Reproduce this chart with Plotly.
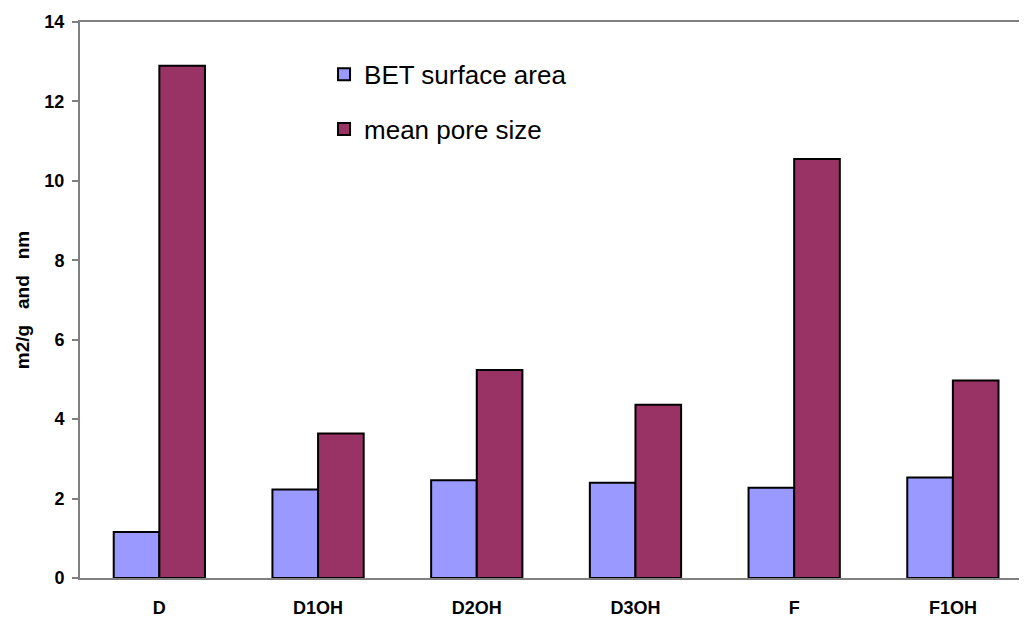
import plotly.graph_objects as go

categories = ["D", "D1OH", "D2OH", "D3OH", "F", "F1OH"]
bet_surface_area = [1.16, 2.23, 2.46, 2.40, 2.27, 2.53]
mean_pore_size = [12.9, 3.64, 5.24, 4.36, 10.55, 4.97]
y_ticks = [0, 2, 4, 6, 8, 10, 12, 14]

fig = go.Figure()
fig.add_trace(go.Bar(
    x=categories, y=bet_surface_area, name="BET surface area",
    marker=dict(color="#9999FF", line=dict(color="black", width=2)),
    legendgroup="a",
))
fig.add_trace(go.Bar(
    x=categories, y=mean_pore_size, name="mean pore size",
    marker=dict(color="#993366", line=dict(color="black", width=2)),
    legendgroup="b",
))

fig.update_layout(
    width=1019, height=609,
    margin=dict(l=72, r=0, t=14, b=39),
    plot_bgcolor="white", paper_bgcolor="white",
    barmode="group", bargap=0.425, bargroupgap=0,
    font=dict(family="Arial, Liberation Sans, sans-serif", color="black"),
    showlegend=True,
    legend=dict(
        x=0.2577, y=0.948, xanchor="left", yanchor="top",
        font=dict(size=26, family="Arial, Liberation Sans, sans-serif"),
        bgcolor="rgba(0,0,0,0)", tracegroupgap=18,
        traceorder="grouped",
    ),
    xaxis=dict(
        type="category", range=[-0.5, 5.467],
        showline=True, linecolor="#808080", linewidth=2, mirror=True,
        ticks="", showgrid=False,
        tickfont=dict(size=18, weight="bold"),
        ticklabelstandoff=12,
    ),
    yaxis=dict(
        range=[0, 14], tickvals=y_ticks,
        showline=True, linecolor="#808080", linewidth=2,
        ticks="outside", ticklen=6, tickcolor="#808080", tickwidth=2,
        showgrid=False, zeroline=False,
        tickfont=dict(size=18, weight="bold"),
        ticklabelstandoff=4,
        title=dict(text="m2/g\u00a0\u00a0 and \u00a0\u00a0nm", font=dict(size=19, weight="bold"), standoff=10),
    ),
)

fig.write_html("out.html")
